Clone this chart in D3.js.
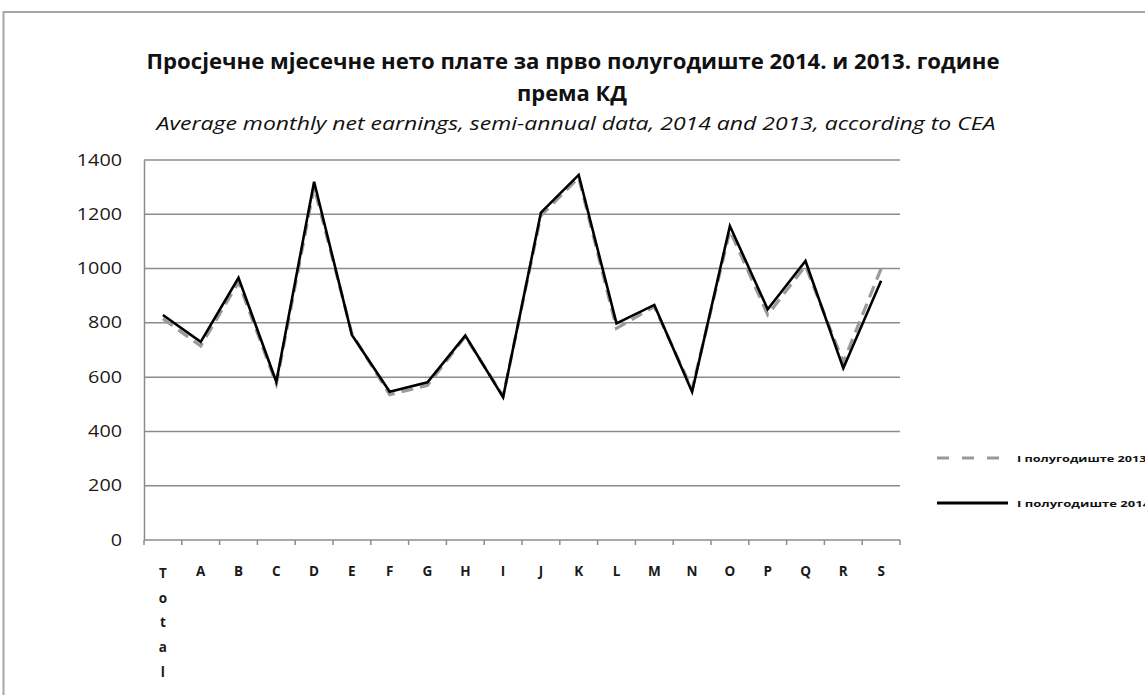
<!DOCTYPE html>
<html><head><meta charset="utf-8">
<script src="https://cdn.jsdelivr.net/npm/d3@7"></script>
<style>body{margin:0;background:#fff}svg{display:block}</style>
</head><body>
<script>
const categories = ["Total","A","B","C","D","E","F","G","H","I","J","K","L","M","N","O","P","Q","R","S"];
const values2013 = [815,715,950,575,1300,760,535,570,750,530,1195,1335,780,860,555,1140,830,1010,655,1000];
const values2014 = [829,730,966,583,1320,755,546,581,753,526,1206,1345,798,866,546,1157,850,1028,633,955];
const yTicks = [0,200,400,600,800,1000,1200,1400];
const seriesNames = ["I полугодиште 2013","I полугодиште 2014."];
const titleLine1 = "Просјечне  мјесечне нето плате за прво полугодиште 2014. и 2013. године";
const titleLine2 = "према КД";
const subtitle = "Average monthly net earnings, semi-annual data, 2014 and 2013, according to CEA";

(function(){
const W = 1145, H = 695;
const svg = d3.select("body").append("svg").attr("width", W).attr("height", H);
const font = "'Open Sans','Liberation Sans',sans-serif";

svg.append("rect").attr("x",3.5).attr("y",12).attr("width",1160).attr("height",720)
  .attr("fill","none").attr("stroke","#a6a6a6").attr("stroke-width",2);

const pl = 144, pr = 900, pt = 160, pb = 540;
const x = d3.scaleBand().domain(categories).range([pl, pr]).padding(0);
const y = d3.scaleLinear().domain([0,1400]).range([pb, pt]);

svg.append("g").selectAll("line").data(yTicks.filter(d=>d>0)).join("line")
  .attr("x1", pl).attr("x2", pr).attr("y1", d=>y(d)).attr("y2", d=>y(d))
  .attr("stroke","#8c8c8c").attr("stroke-width",1.5);

const yAxis = svg.append("g").attr("transform",`translate(${pl},0)`)
  .call(d3.axisLeft(y).tickValues(yTicks).tickSize(0).tickPadding(22).tickFormat(d3.format("d")));
yAxis.select(".domain").attr("stroke","#8c8c8c").attr("stroke-width",1.5);
yAxis.selectAll("text").attr("font-family",font)
  .attr("font-size",16).attr("fill","#1a1a1a")
  .attr("textLength", d=>String(d).length*11.3).attr("lengthAdjust","spacingAndGlyphs");

const xAxisG = svg.append("g").attr("transform",`translate(0,${pb})`);
xAxisG.append("line").attr("x1",pl).attr("x2",pr).attr("y1",0).attr("y2",0)
  .attr("stroke","#8c8c8c").attr("stroke-width",1.5);
const bounds = categories.map(c=>x(c)).concat([x(categories[categories.length-1])+x.bandwidth()]);
xAxisG.selectAll("line.tick").data(bounds).join("line").attr("class","tick")
  .attr("x1",d=>d).attr("x2",d=>d).attr("y1",0).attr("y2",5)
  .attr("stroke","#8c8c8c").attr("stroke-width",1.5);
categories.forEach(c=>{
  const cx = x(c) + x.bandwidth()/2;
  const letters = c.length > 1 ? c.split("") : [c];
  letters.forEach((ch,i)=>{
    xAxisG.append("text").attr("x",cx).attr("y",(c.length>1?38:36) + i*24.7)
      .attr("text-anchor","middle").attr("font-family",font)
      .attr("font-weight","bold").attr("font-size",13.5).attr("fill","#1a1a1a").text(ch);
  });
});

const line = d3.line().x((d,i)=>x(categories[i])+x.bandwidth()/2).y(d=>y(d));
svg.append("path").datum(values2013).attr("d",line).attr("fill","none")
  .attr("stroke","#9a9a9a").attr("stroke-width",3.2).attr("stroke-dasharray","12,7");
svg.append("path").datum(values2014).attr("d",line).attr("fill","none")
  .attr("stroke","#000").attr("stroke-width",2.6);

svg.append("text").attr("x",573).attr("y",69).attr("text-anchor","middle")
  .attr("font-family",font).attr("font-weight","bold").attr("font-size",22)
  .attr("textLength",853).attr("lengthAdjust","spacingAndGlyphs")
  .attr("fill","#111").text(titleLine1);
svg.append("text").attr("x",572).attr("y",101).attr("text-anchor","middle")
  .attr("font-family",font).attr("font-weight","bold").attr("font-size",22)
  .attr("textLength",110).attr("lengthAdjust","spacingAndGlyphs")
  .attr("fill","#111").text(titleLine2);
svg.append("text").attr("x",576).attr("y",130).attr("text-anchor","middle")
  .attr("font-family",font).attr("font-style","italic").attr("font-size",18)
  .attr("textLength",839).attr("lengthAdjust","spacingAndGlyphs")
  .attr("fill","#111").text(subtitle);

const leg = [{name:seriesNames[0], y:458, stroke:"#9a9a9a", w:3.2, dash:"12,13"},
             {name:seriesNames[1], y:503, stroke:"#000", w:3, dash:null}];
leg.forEach(l=>{
  svg.append("line").attr("x1",937).attr("x2",1008).attr("y1",l.y).attr("y2",l.y)
    .attr("stroke",l.stroke).attr("stroke-width",l.w).attr("stroke-dasharray",l.dash);
  svg.append("text").attr("x",1017).attr("y",l.y+3.5).attr("font-family",font)
    .attr("font-weight","bold").attr("font-size",9)
    .attr("textLength", l.name.length*7.2).attr("lengthAdjust","spacingAndGlyphs")
    .attr("fill","#111").text(l.name);
});
})();
</script>
</body></html>
